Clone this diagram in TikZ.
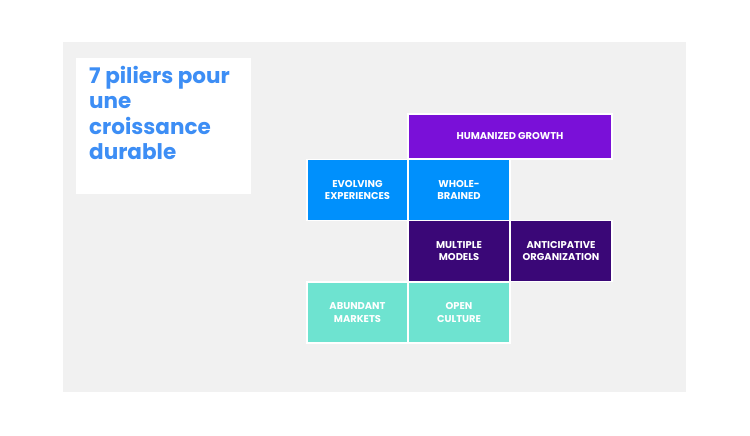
\documentclass[tikz,border=0pt]{standalone}
\usepackage{fontspec}
\setmainfont{Poppins}
\definecolor{bggray}{HTML}{F1F1F1}
\definecolor{titleblue}{HTML}{3D8EF5}
\definecolor{hpurple}{HTML}{7A10D8}
\definecolor{tblue}{HTML}{0090FC}
\definecolor{dpurple}{HTML}{3A0777}
\definecolor{teal}{HTML}{6EE3D0}
\begin{document}
\begin{tikzpicture}[x=1pt,y=-1pt,
  tile/.style={draw=white,line width=1.5pt,inner sep=0pt,outer sep=0pt,
    text=white,font=\fontsize{9.9}{12.5}\selectfont\bfseries,align=center}]
\useasboundingbox (0,0) rectangle (750,436);
\fill[white] (0,0) rectangle (750,436);
\fill[bggray] (63,42) rectangle (686,392);
\node[fill=white,minimum width=175pt,minimum height=136pt,inner sep=0pt,outer sep=0pt] (tbox) at (163.5,126) {};
\node[anchor=north west,inner sep=0pt,text=titleblue,align=left,
  font=\fontsize{21.5}{25.3}\selectfont\bfseries] (title) at (89,66)
  {7 piliers pour\\une\\croissance\\durable};
\node[tile,fill=hpurple,minimum width=204pt,minimum height=45pt] (hg) at (510,136.5) {HUMANIZED GROWTH};
\node[tile,fill=tblue,minimum width=101pt,minimum height=61pt] (ee) at (357.5,190) {EVOLVING\\EXPERIENCES};
\node[tile,fill=tblue,minimum width=102pt,minimum height=61pt] (wb) at (459,190) {WHOLE-\\BRAINED};
\node[tile,fill=dpurple,minimum width=102pt,minimum height=61pt] (mm) at (459,251) {MULTIPLE\\MODELS};
\node[tile,fill=dpurple,minimum width=102pt,minimum height=61pt] (ao) at (561,251) {ANTICIPATIVE\\ORGANIZATION};
\node[tile,fill=teal,minimum width=101pt,minimum height=61pt] (am) at (357.5,312.5) {ABUNDANT\\MARKETS};
\node[tile,fill=teal,minimum width=102pt,minimum height=61pt] (oc) at (459,312.5) {OPEN\\CULTURE};
\end{tikzpicture}
\end{document}
